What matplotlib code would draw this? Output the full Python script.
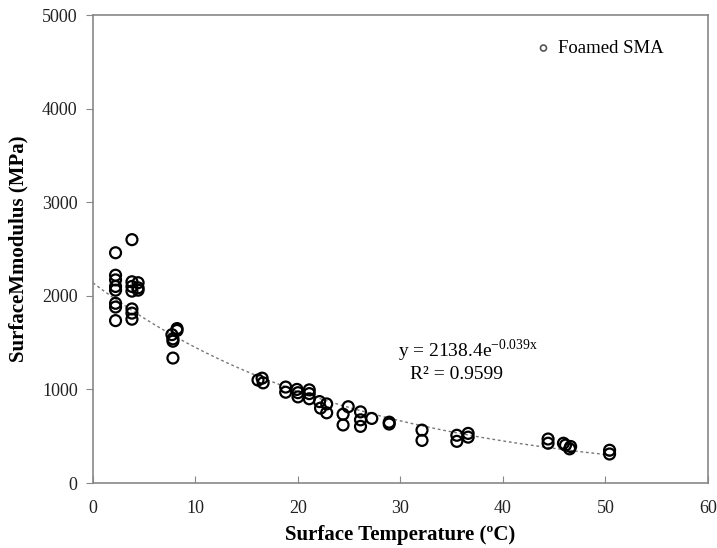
import numpy as np
import matplotlib
matplotlib.use("Agg")
import matplotlib.pyplot as plt

plt.rcParams['font.family'] = ['Liberation Serif', 'DejaVu Serif']
plt.rcParams['mathtext.fontset'] = 'custom'
plt.rcParams['mathtext.rm'] = 'Liberation Serif'

temp = [2.2, 2.2, 2.2, 2.2, 2.2, 2.2, 2.2, 2.2,
        3.8, 3.8, 3.8, 3.8, 3.8, 3.8, 3.8, 4.4, 4.4, 4.4,
        7.7, 7.8, 7.8, 8.2, 8.2, 7.8,
        16.1, 16.5, 16.6, 18.8, 18.8, 19.9, 20.0, 20.0, 21.1, 21.1, 21.1,
        22.1, 22.2, 22.8, 22.8, 24.9, 24.4, 24.4, 26.1, 26.1, 26.1, 27.2, 28.9, 28.9,
        32.1, 32.1, 35.5, 35.5, 36.6, 36.6, 44.4, 44.4, 45.9, 46.1, 46.6, 46.5,
        50.4, 50.4]
modulus = [2460, 2220, 2170, 2100, 2060, 1920, 1880, 1735,
           2600, 2150, 2100, 2050, 1860, 1815, 1750, 2140, 2085, 2060,
           1585, 1540, 1515, 1650, 1630, 1335,
           1100, 1120, 1070, 1025, 970, 1000, 965, 920, 995, 955, 900,
           870, 800, 845, 750, 815, 735, 620, 760, 675, 605, 690, 650, 630,
           565, 455, 510, 445, 530, 490, 470, 425, 425, 405, 390, 365,
           350, 310]

fit_a = 2138.4
fit_b = -0.039

fig = plt.figure(figsize=(7.17, 5.48), dpi=100)
ax = fig.add_axes([0.1297, 0.1186, 0.8577, 0.854])

ax.scatter(temp, modulus, s=62, facecolors='none', edgecolors='black',
           linewidths=1.6, zorder=3, label='Foamed SMA')
xf = np.linspace(0, 50.5, 200)
ax.plot(xf, fit_a * np.exp(fit_b * xf), linestyle=(0, (2, 2)), color='#777777',
        linewidth=1.0, zorder=2)

ax.set_xlim(0, 60)
ax.set_ylim(0, 5000)
ax.set_xticks(range(0, 61, 10))
ax.set_yticks(range(0, 5001, 1000))
ax.tick_params(axis='x', direction='in', length=5, color='#888888', labelsize=13,
               pad=12, labelcolor='#222222')
ax.tick_params(axis='y', direction='out', length=5, color='#888888', labelsize=13,
               pad=6, labelcolor='#222222')
for side in ['left', 'right', 'top', 'bottom']:
    ax.spines[side].set_color('#888888')
    ax.spines[side].set_linewidth(1.2)

ax.set_xlabel('Surface Temperature (ºC)', fontsize=15, fontweight='bold', labelpad=6)
ax.set_ylabel('SurfaceMmodulus (MPa)', fontsize=15, fontweight='bold', labelpad=10)

ax.text(0.496, 0.282, r'y = 2138.4e$^{\mathregular{-0.039x}}$', transform=ax.transAxes,
        fontsize=14, ha='left', va='center')
ax.text(0.515, 0.232, 'R² = 0.9599', transform=ax.transAxes,
        fontsize=14, ha='left', va='center')

leg = ax.legend(loc='upper right', bbox_to_anchor=(0.95, 0.975), frameon=False,
                fontsize=13.5, handletextpad=-0.2, borderaxespad=0.3, markerscale=0.55)
for h in leg.legend_handles:
    h.set_edgecolor('#555555')
    h.set_linewidth(1.2)

fig.savefig('out.png', dpi=100)
